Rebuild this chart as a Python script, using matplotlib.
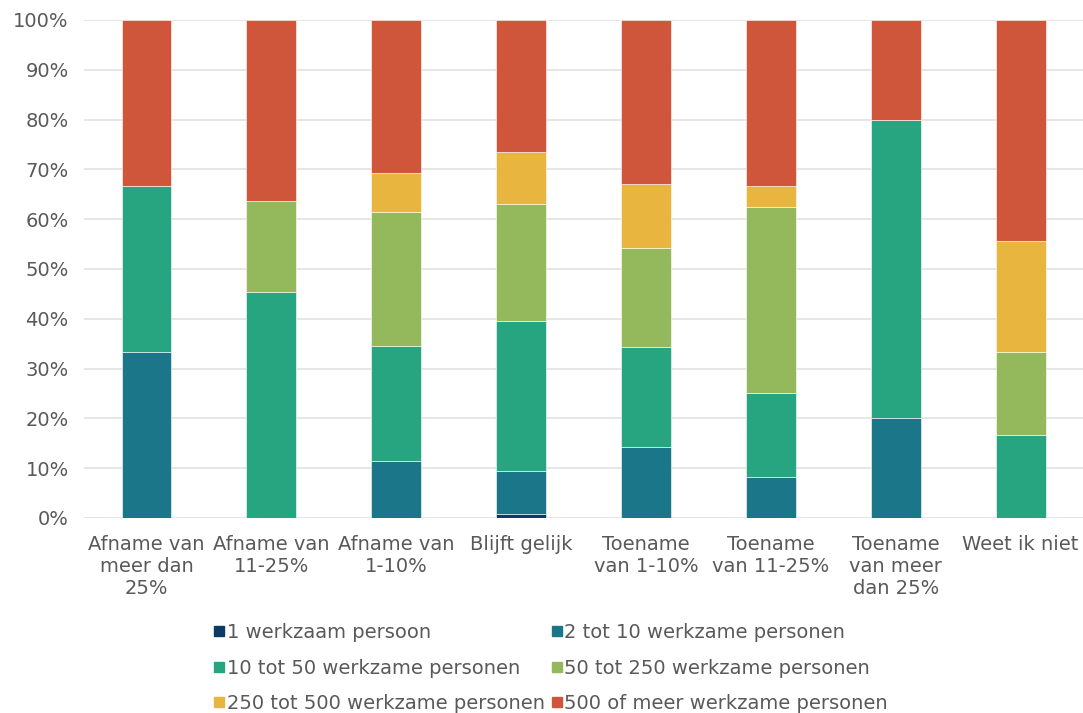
import numpy as np
import matplotlib
matplotlib.use("Agg")
import matplotlib.pyplot as plt
from matplotlib.lines import Line2D
from matplotlib.ticker import PercentFormatter

# ── data (share of respondents per company size, %) ──────────────────────────
categories = [
    "Afname van\nmeer dan\n25%",
    "Afname van\n11-25%",
    "Afname van\n1-10%",
    "Blijft gelijk",
    "Toename\nvan 1-10%",
    "Toename\nvan 11-25%",
    "Toename\nvan meer\ndan 25%",
    "Weet ik niet",
]

size_1 = [0, 0, 0, 0.9, 0, 0, 0, 0]
size_2_10 = [33.33, 0, 11.54, 8.5, 14.29, 8.33, 20.0, 0]
size_10_50 = [33.33, 45.45, 23.08, 30.1, 20.0, 16.67, 60.0, 16.67]
size_50_250 = [0, 18.18, 26.92, 23.6, 20.0, 37.5, 0, 16.67]
size_250_500 = [0, 0, 7.69, 10.4, 12.86, 4.17, 0, 22.22]
size_500_plus = [33.33, 36.36, 30.77, 26.5, 32.86, 33.33, 20.0, 44.44]

series_labels = [
    "1 werkzaam persoon",
    "2 tot 10 werkzame personen",
    "10 tot 50 werkzame personen",
    "50 tot 250 werkzame personen",
    "250 tot 500 werkzame personen",
    "500 of meer werkzame personen",
]
series = [size_1, size_2_10, size_10_50, size_50_250, size_250_500, size_500_plus]
colors = ["#0b3a66", "#1b7689", "#27a580", "#94b95c", "#e8b63f", "#cf553b"]

TEXT = "#595959"
FS = 14

# ── plot ─────────────────────────────────────────────────────────────────────
fig = plt.figure(figsize=(10.83, 7.13), dpi=100)
ax = fig.add_axes([0.0776, 0.2735, 0.9224, 0.6985])

x = np.arange(len(categories))
bottom = np.zeros(len(categories))
for vals, col in zip(series, colors):
    vals = np.array(vals)
    ax.bar(x, vals, width=0.4, bottom=bottom, color=col,
           edgecolor="white", linewidth=0.4, zorder=3)
    bottom += vals

ax.set_xlim(-0.5, len(categories) - 0.5)
ax.set_ylim(0, 100)
ax.set_yticks(range(0, 101, 10))
ax.yaxis.set_major_formatter(PercentFormatter(decimals=0))
ax.grid(axis="y", color="#e2e2e2", linewidth=1.2, zorder=0)
ax.set_xticks(x)
ax.set_xticklabels(categories, fontsize=FS, color=TEXT, linespacing=1.2)
ax.tick_params(axis="y", labelsize=FS, labelcolor=TEXT, length=0, pad=11)
ax.tick_params(axis="x", length=0, pad=12)
for side in ["top", "right", "left", "bottom"]:
    ax.spines[side].set_visible(False)

# legend: two columns, filled row by row
handles = [Line2D([], [], marker="s", linestyle="none", markersize=7,
                  markerfacecolor=c, markeredgecolor=c) for c in colors]
order = [0, 2, 4, 1, 3, 5]
leg = fig.legend([handles[i] for i in order], [series_labels[i] for i in order],
                 ncol=2, loc="center", bbox_to_anchor=(0.509, 0.063),
                 frameon=False, fontsize=FS, handlelength=0.5,
                 handletextpad=0.15, columnspacing=0.35, labelspacing=0.85,
                 borderpad=0)
for t in leg.get_texts():
    t.set_color(TEXT)

fig.savefig("out.png", dpi=100, facecolor="white")
